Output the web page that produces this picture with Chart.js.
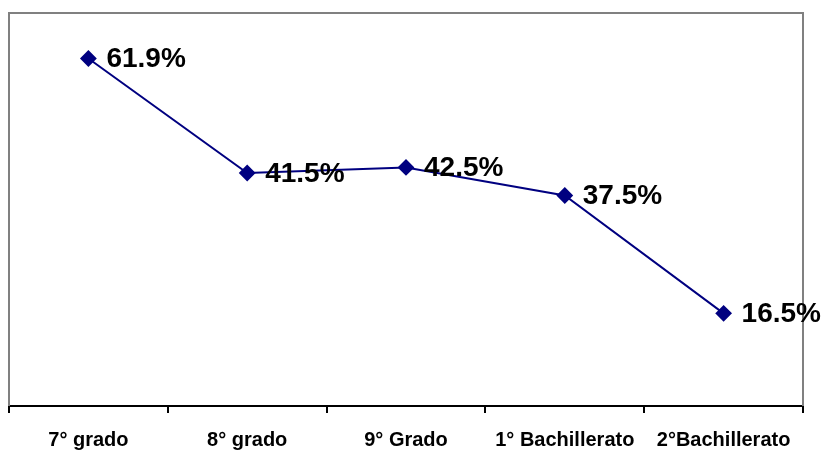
<!DOCTYPE html>
<html>
<head>
<meta charset="utf-8">
<script src="https://cdn.jsdelivr.net/npm/chart.js@4/dist/chart.umd.min.js"></script>
<style>
  html, body { margin: 0; padding: 0; background: #fff; }
  #wrap { width: 823px; height: 453px; }
</style>
</head>
<body>
<div id="wrap"><canvas id="chart"></canvas></div>
<script>
// Values
const grades = ["7° grado", "8° grado", "9° Grado", "1° Bachillerato", "2°Bachillerato"];
const percents = [61.9, 41.5, 42.5, 37.5, 16.5];

// gray frame around the plot area (top, left, right); bottom is the x axis
const framePlugin = {
  id: 'frame',
  beforeDatasetsDraw(chart) {
    const { ctx, chartArea: a } = chart;
    ctx.save();
    ctx.strokeStyle = '#808080';
    ctx.lineWidth = 2;
    ctx.beginPath();
    ctx.moveTo(a.left, a.bottom);
    ctx.lineTo(a.left, a.top);
    ctx.lineTo(a.right, a.top);
    ctx.lineTo(a.right, a.bottom);
    ctx.stroke();
    ctx.restore();
  }
};

// value labels to the right of each point
const labelPlugin = {
  id: 'valueLabels',
  afterDatasetsDraw(chart) {
    const { ctx } = chart;
    const meta = chart.getDatasetMeta(0);
    ctx.save();
    ctx.font = 'bold 28px "Liberation Sans", Arial, sans-serif';
    ctx.fillStyle = '#000';
    ctx.textAlign = 'left';
    ctx.textBaseline = 'middle';
    meta.data.forEach((pt, i) => {
      ctx.fillText(percents[i].toFixed(1) + '%', pt.x + 18, pt.y + 1);
    });
    ctx.restore();
  }
};

new Chart(document.getElementById('chart'), {
  type: 'line',
  data: {
    labels: grades,
    datasets: [{
      data: percents,
      borderColor: '#000080',
      backgroundColor: '#000080',
      borderWidth: 2,
      pointStyle: 'rectRot',
      pointRadius: 7,
      pointHoverRadius: 7,
      tension: 0
    }]
  },
  options: {
    responsive: true,
    maintainAspectRatio: false,
    animation: false,
    layout: { padding: { left: 8, top: 13, right: 20, bottom: -14 } },
    plugins: { legend: { display: false }, tooltip: { enabled: false } },
    scales: {
      y: { display: false, min: 0, max: 70 },
      x: {
        offset: true,
        border: { display: true, color: '#000', width: 2 },
        grid: { offset: true, drawOnChartArea: false, drawTicks: true, tickLength: 7, color: '#000', lineWidth: 2 },
        ticks: {
          color: '#000',
          padding: 15,
          maxRotation: 0,
          autoSkip: false,
          font: { family: '"Liberation Sans", Arial, sans-serif', size: 20, weight: 'bold' }
        }
      }
    }
  },
  plugins: [framePlugin, labelPlugin]
});
</script>
</body>
</html>
